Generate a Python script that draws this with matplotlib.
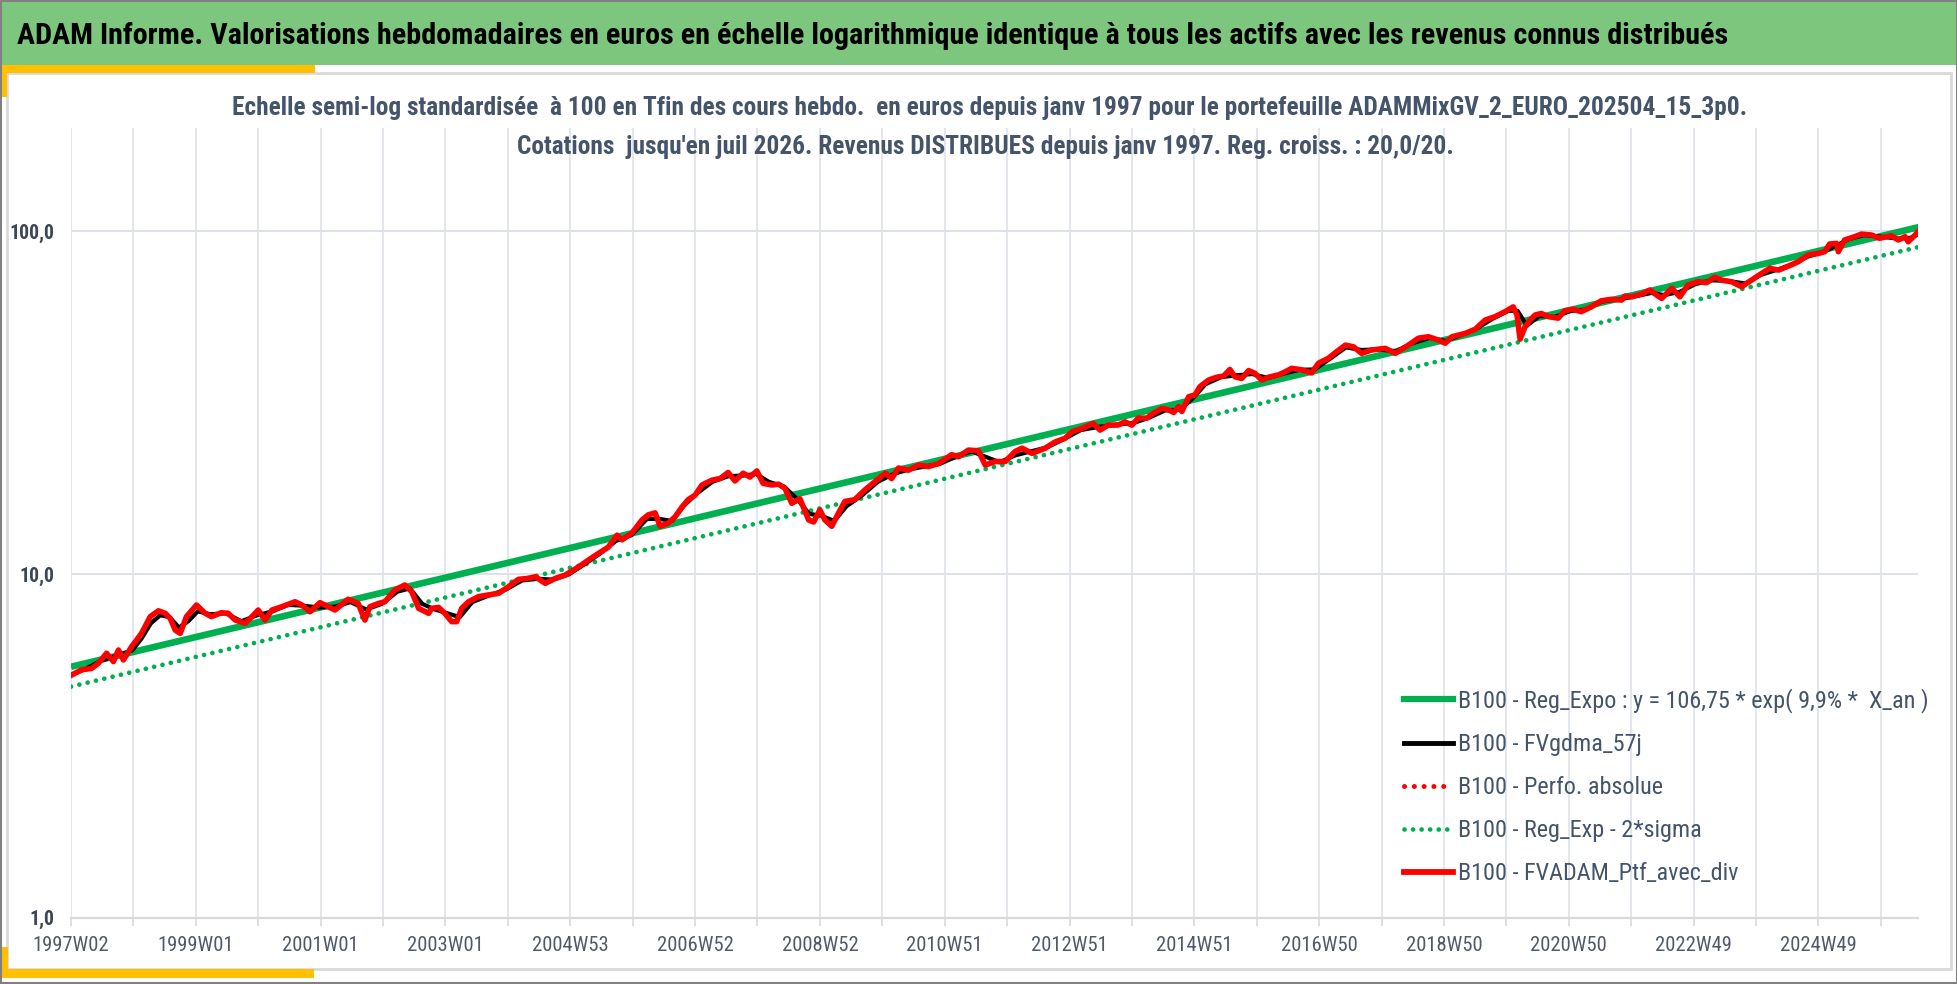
import numpy as np
import matplotlib
matplotlib.use('Agg')
import matplotlib.pyplot as plt
from matplotlib import font_manager
from matplotlib.patches import Rectangle
from matplotlib.lines import Line2D
from matplotlib.ticker import FixedLocator, NullFormatter

# ---------------- data ----------------
red_years = [1997.03, 1997.19, 1997.35, 1997.46, 1997.59, 1997.70, 1997.78, 1997.86, 1997.99,
             1998.15, 1998.29, 1998.42, 1998.53, 1998.61, 1998.69, 1998.77, 1998.87, 1999.03,
             1999.17, 1999.27, 1999.43, 1999.54, 1999.65, 1999.81, 1999.92, 2000.02, 2000.13,
             2000.24, 2000.40, 2000.61, 2000.72, 2000.85, 2001.01, 2001.14, 2001.25, 2001.46,
             2001.62, 2001.73, 2001.81, 2001.95, 2002.05, 2002.21, 2002.37, 2002.48, 2002.59,
             2002.75, 2002.80, 2002.91, 2003.01, 2003.12, 2003.20, 2003.28, 2003.39, 2003.55,
             2003.71, 2003.87, 2004.03, 2004.19, 2004.35, 2004.46, 2004.62, 2004.78, 2004.94,
             2005.15, 2005.31, 2005.47, 2005.63, 2005.77, 2005.85, 2006.01, 2006.17, 2006.27,
             2006.38, 2006.46, 2006.59, 2006.70, 2006.81, 2006.91, 2007.02, 2007.13, 2007.29,
             2007.42, 2007.55, 2007.66, 2007.79, 2007.90, 2008.01, 2008.11, 2008.25, 2008.36,
             2008.46, 2008.57, 2008.70, 2008.84, 2008.92, 2009.02, 2009.10, 2009.21, 2009.32,
             2009.42, 2009.58, 2009.74, 2009.90, 2010.07, 2010.17, 2010.28, 2010.44, 2010.60,
             2010.76, 2010.92, 2011.13, 2011.24, 2011.40, 2011.56, 2011.67, 2011.83, 2011.99,
             2012.15, 2012.26, 2012.42, 2012.63, 2012.79, 2012.95, 2013.06, 2013.22, 2013.40,
             2013.51, 2013.64, 2013.80, 2013.91, 2014.02, 2014.12, 2014.26, 2014.36, 2014.50,
             2014.61, 2014.69, 2014.77, 2014.82, 2014.93, 2015.03, 2015.11, 2015.25, 2015.38,
             2015.49, 2015.59, 2015.67, 2015.78, 2015.89, 2015.99, 2016.10, 2016.21, 2016.37,
             2016.48, 2016.58, 2016.74, 2016.90, 2017.01, 2017.17, 2017.30, 2017.44, 2017.57,
             2017.70, 2017.86, 2018.08, 2018.24, 2018.45, 2018.61, 2018.77, 2018.93, 2019.04,
             2019.15, 2019.36, 2019.52, 2019.68, 2019.84, 2020.00, 2020.13, 2020.19, 2020.24,
             2020.32, 2020.40, 2020.48, 2020.58, 2020.69, 2020.85, 2020.96, 2021.09, 2021.22,
             2021.38, 2021.54, 2021.70, 2021.87, 2021.92, 2022.03, 2022.19, 2022.32, 2022.45,
             2022.51, 2022.67, 2022.80, 2022.93, 2023.09, 2023.23, 2023.36, 2023.47, 2023.63,
             2023.79, 2023.95, 2024.11, 2024.24, 2024.38, 2024.54, 2024.70, 2024.86, 2025.02,
             2025.12, 2025.20, 2025.31, 2025.34, 2025.44, 2025.60, 2025.71, 2025.87, 2026.00,
             2026.19, 2026.30, 2026.41, 2026.46, 2026.57, 2026.63]
red_values = [5.09, 5.27, 5.32, 5.51, 5.89, 5.57, 6.02, 5.63, 6.15,
              6.73, 7.53, 7.83, 7.70, 7.44, 6.88, 6.73, 7.53, 8.14,
              7.70, 7.53, 7.73, 7.70, 7.36, 7.20, 7.53, 7.87, 7.36,
              7.87, 8.05, 8.32, 8.14, 7.78, 8.27, 8.05, 7.87, 8.46,
              8.23, 7.36, 8.05, 8.23, 8.32, 9.00, 9.31, 8.90, 7.96,
              7.70, 7.96, 8.01, 7.70, 7.28, 7.28, 7.96, 8.32, 8.61,
              8.71, 8.80, 9.20, 9.67, 9.73, 9.84, 9.41, 9.73, 9.95,
              10.5, 11.0, 11.5, 12.0, 13.0, 12.6, 13.2, 14.4, 14.9,
              15.1, 13.8, 14.1, 14.7, 15.7, 16.5, 17.0, 18.2, 18.8,
              19.0, 19.8, 18.7, 19.7, 19.2, 20.0, 18.4, 18.2, 18.3,
              17.8, 16.1, 16.6, 14.4, 14.2, 15.4, 14.4, 13.8, 15.1,
              16.3, 16.5, 17.6, 18.6, 19.7, 19.0, 20.4, 20.1, 20.8,
              20.6, 21.0, 22.3, 22.0, 23.0, 22.9, 20.8, 21.3, 21.3,
              22.8, 23.3, 22.5, 23.3, 24.3, 24.9, 26.0, 26.6, 27.5,
              26.3, 27.2, 27.2, 27.8, 27.2, 28.5, 28.5, 29.4, 30.4,
              30.1, 29.6, 30.8, 29.8, 32.9, 33.3, 35.2, 36.8, 37.5,
              37.8, 39.5, 37.6, 37.2, 39.2, 38.5, 36.8, 37.5, 38.1,
              38.9, 39.8, 39.4, 38.6, 41.2, 42.6, 44.5, 46.5, 46.0,
              44.0, 45.0, 45.5, 44.0, 46.5, 48.7, 49.2, 48.1, 47.1,
              49.2, 50.3, 51.7, 55.0, 56.3, 58.2, 60.1, 56.9, 48.4,
              52.6, 55.0, 56.9, 57.5, 56.3, 55.7, 58.6, 59.1, 58.2,
              60.1, 62.6, 63.2, 62.9, 64.6, 64.3, 65.5, 67.3, 64.6,
              63.6, 68.1, 64.3, 69.6, 71.1, 70.7, 73.3, 71.9, 71.1,
              68.8, 71.9, 75.2, 77.8, 76.9, 79.0, 81.4, 85.1, 86.0,
              87.0, 91.6, 92.0, 87.0, 94.1, 96.2, 97.9, 97.3, 95.2,
              96.8, 94.1, 96.2, 93.0, 97.3, 100.1]

black_years = [1997.03, 1997.25, 1997.50, 1997.75, 1998.00, 1998.15, 1998.30, 1998.45, 1998.60,
               1998.75, 1998.90, 1999.05, 1999.25, 1999.50, 1999.75, 2000.00, 2000.25, 2000.50,
               2000.75, 2001.00, 2001.25, 2001.50, 2001.75, 2002.00, 2002.25, 2002.45, 2002.65,
               2002.85, 2003.05, 2003.25, 2003.45, 2003.70, 2004.00, 2004.25, 2004.50, 2004.75,
               2005.00, 2005.25, 2005.50, 2005.75, 2006.00, 2006.25, 2006.45, 2006.65, 2006.85,
               2007.05, 2007.30, 2007.55, 2007.80, 2008.00, 2008.20, 2008.45, 2008.65, 2008.85,
               2009.05, 2009.25, 2009.45, 2009.70, 2009.95, 2010.20, 2010.45, 2010.70, 2010.95,
               2011.20, 2011.45, 2011.70, 2011.90, 2012.15, 2012.40, 2012.65, 2012.90, 2013.20,
               2013.50, 2013.80, 2014.05, 2014.30, 2014.55, 2014.80, 2015.00, 2015.20, 2015.45,
               2015.70, 2015.95, 2016.20, 2016.45, 2016.70, 2016.95, 2017.20, 2017.45, 2017.70,
               2017.95, 2018.25, 2018.50, 2018.80, 2019.05, 2019.30, 2019.55, 2019.80, 2020.05,
               2020.20, 2020.35, 2020.55, 2020.80, 2021.05, 2021.30, 2021.55, 2021.85, 2022.10,
               2022.35, 2022.55, 2022.80, 2023.05, 2023.30, 2023.55, 2023.85, 2024.10, 2024.35,
               2024.60, 2024.85, 2025.10, 2025.30, 2025.50, 2025.75, 2026.00, 2026.30, 2026.50,
               2026.63]
black_values = [5.1, 5.3, 5.6, 5.8, 6.0, 6.5, 7.2, 7.6, 7.5,
                7.0, 7.3, 7.8, 7.65, 7.7, 7.3, 7.6, 7.8, 8.15,
                8.1, 8.0, 8.05, 8.3, 7.9, 8.2, 8.9, 9.1, 8.2,
                7.9, 7.7, 7.5, 8.3, 8.65, 9.05, 9.6, 9.7, 9.65,
                10.0, 10.7, 11.5, 12.5, 13.0, 14.5, 14.5, 14.3, 15.9,
                17.2, 18.6, 19.3, 19.4, 19.6, 18.6, 18.0, 16.6, 15.0,
                14.8, 14.3, 15.8, 17.0, 18.6, 19.6, 20.2, 20.6, 21.0,
                22.0, 22.8, 21.9, 21.2, 22.2, 22.8, 23.4, 24.6, 26.3,
                26.9, 27.3, 27.6, 28.6, 30.0, 30.2, 32.6, 35.8, 37.5,
                38.0, 38.3, 37.3, 38.4, 39.4, 39.5, 42.5, 45.8, 45.0,
                45.2, 44.6, 47.0, 48.8, 47.8, 49.8, 52.0, 55.5, 58.5,
                58.5, 53.0, 56.5, 56.2, 58.5, 59.0, 62.3, 63.3, 64.6,
                66.0, 65.0, 66.5, 70.0, 71.8, 71.6, 70.3, 74.5, 77.0,
                79.8, 84.2, 86.8, 90.5, 94.5, 97.2, 96.3, 95.0, 95.5,
                98.0]

reg_years = [1997.02, 2026.63]
reg_values = [5.38, 102.6]
sigma_years = [1997.02, 2026.63]
sigma_values = [4.71, 89.8]

tick_labels = ['1997W02', '1999W01', '2001W01', '2003W01', '2004W53', '2006W52', '2008W52',
               '2010W51', '2012W51', '2014W51', '2016W50', '2018W50', '2020W50', '2022W49',
               '2024W49']
y_ticks = [1, 10, 100]
y_tick_labels = ['1,0', '10,0', '100,0']

legend_labels = ['B100 - Reg_Expo : y = 106,75 * exp( 9,9% *  X_an )',
                 'B100 - FVgdma_57j',
                 'B100 - Perfo. absolue',
                 'B100 - Reg_Exp - 2*sigma',
                 'B100 - FVADAM_Ptf_avec_div']

title = ("ADAM Informe. Valorisations hebdomadaires en euros en échelle logarithmique "
         "identique à tous les actifs avec les revenus connus distribués")
sub1 = ("Echelle semi-log standardisée  à 100 en Tfin des cours hebdo.  en euros depuis janv 1997 "
        "pour le portefeuille ADAMMixGV_2_EURO_202504_15_3p0.")
sub2 = "Cotations  jusqu'en juil 2026. Revenus DISTRIBUES depuis janv 1997. Reg. croiss. : 20,0/20."

# ---------------- fonts ----------------
flist = font_manager.fontManager.ttflist
names = {f.name for f in flist}
FONT = None
STRETCH = 'normal'
for pref in ['Liberation Sans Narrow', 'Arial Narrow', 'Roboto Condensed', 'Noto Sans Condensed',
             'Open Sans Condensed', 'DejaVu Sans Condensed']:
    if pref in names:
        FONT = pref
        break
if FONT is None:
    cond = [f for f in flist if str(f.stretch) in ('condensed', 'semi-condensed', '600', '700', '750')]
    cond = [f for f in cond if f.name in ('Noto Sans', 'Open Sans', 'Roboto', 'Inter', 'Lato')]
    if cond:
        FONT = cond[0].name
        STRETCH = 'condensed'
if FONT is None:
    FONT = 'Lato' if 'Lato' in names else 'DejaVu Sans'
plt.rcParams['font.family'] = [FONT, 'DejaVu Sans']
plt.rcParams['font.stretch'] = STRETCH

W, H, DPI = 1958, 984, 100
GREEN = '#00B050'
RED = '#FF0000'
SLATE = '#44546A'
GRID = '#DEE2E8'


def wk(years):
    return (np.asarray(years) - 1997.02) * 52.0


def fy(py):
    return 1 - py / H


fig = plt.figure(figsize=(W / DPI, H / DPI), dpi=DPI)
fig.patch.set_facecolor('white')
fig.canvas.draw()
R = fig.canvas.get_renderer()


def width_px(t):
    return t.get_window_extent(R).width


def fit(t, target):
    w = width_px(t)
    t.set_fontsize(t.get_fontsize() * target / w)


# frame decorations
fig.add_artist(Rectangle((7 / W, fy(969)), (1951 - 7) / W, (969 - 73) / H, transform=fig.transFigure,
                         facecolor='white', edgecolor='#D9D9D9', lw=2, zorder=-5))
fig.add_artist(Rectangle((0, fy(65)), 1, 65 / H, transform=fig.transFigure,
                         facecolor='#7DC67E', edgecolor='none', zorder=1))
fig.add_artist(Rectangle((0, fy(73)), 315 / W, 8 / H, transform=fig.transFigure,
                         facecolor='#FFC000', edgecolor='none', zorder=2))
fig.add_artist(Rectangle((0, fy(97)), 7 / W, 32 / H, transform=fig.transFigure,
                         facecolor='#FFC000', edgecolor='none', zorder=2))
fig.add_artist(Rectangle((0, fy(978)), 314 / W, 9 / H, transform=fig.transFigure,
                         facecolor='#FFC000', edgecolor='none', zorder=2))
fig.add_artist(Rectangle((0, fy(978)), 8 / W, 31 / H, transform=fig.transFigure,
                         facecolor='#FFC000', edgecolor='none', zorder=2))
fig.add_artist(Rectangle((0.0005, 0.001), 0.999, 0.998, transform=fig.transFigure,
                         facecolor='none', edgecolor='#808080', lw=1.5, zorder=10))

ax = fig.add_axes([71 / W, fy(917.7), (1918 - 71) / W, (917.7 - 128) / H])
ax.set_facecolor('none')
ax.set_yscale('log')
ax.set_ylim(1, 199.4)
ax.set_xlim(0, 1539)

ax.plot(wk(reg_years), reg_values, color=GREEN, lw=4.8, solid_capstyle='butt', zorder=2)
ax.plot(wk(sigma_years), sigma_values, color=GREEN, lw=3.4, linestyle=(0, (0.01, 1.8)),
        dash_capstyle='round', zorder=2)
ax.plot(wk(black_years), black_values, color='black', lw=3.0, zorder=3)
ax.plot(wk(red_years), red_values, color=RED, lw=3.0, linestyle=(0, (0.01, 1.9)),
        dash_capstyle='round', zorder=3.5)
ax.plot(wk(red_years), red_values, color=RED, lw=4.0, solid_joinstyle='round', zorder=4)

# axes, ticks, grid
for s in ['top', 'right', 'left']:
    ax.spines[s].set_visible(False)
ax.spines['bottom'].set_color('#D9D9D9')
ax.spines['bottom'].set_linewidth(1.6)

# font sizes matched to the widths seen in the reference
tmp = fig.text(0, 0, tick_labels[0], fontsize=14)
xfs = 14 * 77 / width_px(tmp)
tmp.remove()
tmp = fig.text(0, 0, '100,0', fontsize=13, fontweight='bold')
yfs = 13 * 45 / width_px(tmp)
tmp.remove()
tmp = fig.text(0, 0, legend_labels[0], fontsize=15)
lfs = 15 * 470 / width_px(tmp)
tmp.remove()

major = [104 * i for i in range(len(tick_labels))]
minor = [52 + 104 * i for i in range(len(tick_labels))]
ax.xaxis.set_major_locator(FixedLocator(major))
ax.xaxis.set_minor_locator(FixedLocator(minor))
ax.set_xticklabels(tick_labels)
ax.xaxis.set_minor_formatter(NullFormatter())
ax.tick_params(axis='x', which='both', length=6, width=1.2, color='#D9D9D9', direction='out',
               labelsize=xfs, labelcolor='#515A6A', pad=7.5)
ax.set_yticks(y_ticks)
ax.set_yticklabels(y_tick_labels)
ax.yaxis.set_minor_locator(FixedLocator([]))
ax.tick_params(axis='y', which='both', length=0, pad=12, labelsize=yfs, labelcolor='#3B4656')
for t in ax.get_yticklabels():
    t.set_fontweight('bold')
ax.grid(True, which='both', axis='x', color=GRID, lw=1.2, zorder=0)
ax.grid(True, which='major', axis='y', color=GRID, lw=1.4, zorder=0)
ax.set_axisbelow(True)

handles = [Line2D([], [], color=GREEN, lw=4.5),
           Line2D([], [], color='black', lw=3.5),
           Line2D([], [], color=RED, lw=3.6, linestyle=(0, (0.01, 1.95)), dash_capstyle='round'),
           Line2D([], [], color=GREEN, lw=3.4, linestyle=(0, (0.01, 1.8)), dash_capstyle='round'),
           Line2D([], [], color=RED, lw=4.2)]
row_pt = 43 * 72 / DPI
lspace = max(0.2, (row_pt - 0.95 * lfs) / lfs)
leg = fig.legend(handles, legend_labels, loc='upper left',
                 bbox_to_anchor=(1404 / W, fy(700 - 0.5 * lfs * DPI / 72)),
                 frameon=False, fontsize=lfs, handlelength=35.3 / lfs, handletextpad=3.6 / lfs,
                 labelspacing=lspace, borderpad=0, borderaxespad=0)
for t in leg.get_texts():
    t.set_color(SLATE)

# titles
t_title = fig.text(17 / W, fy(36), title, fontsize=18, fontweight='bold', color='black',
                   ha='left', va='center', zorder=5)
t_s1 = fig.text(990 / W, fy(108), sub1, fontsize=16, fontweight='bold', color=SLATE,
                ha='center', va='center')
t_s2 = fig.text(985 / W, fy(147), sub2, fontsize=16, fontweight='bold', color=SLATE,
                ha='center', va='center')
fit(t_title, 1709)
fit(t_s1, 1516)
t_s2.set_fontsize(t_s1.get_fontsize())

fig.savefig('out.png', dpi=DPI)
